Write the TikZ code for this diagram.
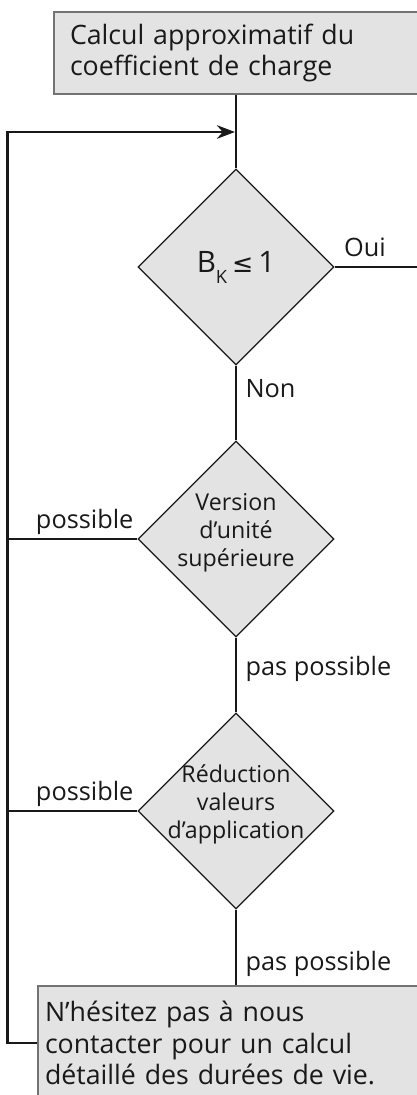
\documentclass[tikz,border=0pt]{standalone}
\usepackage{fontspec}
\setmainfont{Open Sans}
\newfontfamily\symfont{DejaVu Sans}
\usepackage{tikz}
\usetikzlibrary{shapes.geometric, arrows.meta, positioning, calc}
\definecolor{boxgray}{gray}{0.89}
\definecolor{ink}{gray}{0.1}

\begin{document}
\begin{tikzpicture}[
  every node/.style={font=\fontsize{18}{22}\selectfont, text=ink},
  infobox/.style={draw=black!55, line width=0.8pt, fill=boxgray, rectangle, align=left, font=\fontsize{19}{22.5}\selectfont},
  decision/.style={draw=ink, line width=0.9pt, fill=boxgray, diamond, aspect=1, minimum width=4.9cm, minimum height=4.9cm, inner sep=0pt},
  dtext/.style={align=center, font=\fontsize{16.5}{20}\selectfont},
  flow/.style={draw=ink, line width=1.6pt},
  lbl/.style={inner xsep=6pt, inner ysep=7pt, text depth=0pt}
]
\useasboundingbox (0,0) rectangle (10.425,-27.375);

% Start box
\node[infobox, minimum width=9.1cm, minimum height=2.05cm, text width=8.3cm, inner xsep=0.4cm] (calc) at (5.9,-1.325) {Calcul approximatif du\\coefficient de charge};

% Decisions
\node[decision] (bk) at (5.9,-6.675) {};
\node[dtext, font=\fontsize{21}{24}\selectfont] (bktxt) at (bk) {B\raisebox{-0.7ex}{\fontsize{13}{13}\selectfont K}\,{\symfont\fontsize{18}{18}\selectfont ≤}\,1};

\node[decision] (unit) at (5.9,-13.475) {};
\node[dtext] (unittxt) at ($(unit)+(0,0.15)$) {Version\\d’unité\\supérieure};

\node[decision] (reduc) at (5.9,-20.275) {};
\node[dtext] (reductxt) at ($(reduc)+(0,0.17)$) {Réduction\\valeurs\\d’application};

% End box
\node[infobox, minimum width=9.8cm, minimum height=2.85cm, text width=9.45cm, inner xsep=0.175cm] (contact) at (5.85,-26.075) {N’hésitez pas à nous\\contacter pour un calcul\\détaillé des durées de vie.};

\coordinate (oend) at (10.6,-6.675);
\coordinate (loop) at (0.1875,-3.3);

% Main flow
\draw[flow] (calc) -- (bk);
\draw[flow] (bk.east) -- node[lbl, above right, pos=0] (oui) {Oui} (oend);
\draw[flow] (bk) -- node[lbl, right, pos=0.3] (non) {Non} (unit);
\draw[flow] (unit) -- node[lbl, right, pos=0.38] (nopos1) {pas possible} (reduc);
\draw[flow] (reduc) -- node[lbl, right, pos=0.68] (nopos2) {pas possible} (reduc.south |- contact.north);

% Back to the start
\draw[flow] (unit.west) -- node[lbl, above left, pos=0, inner xsep=2pt] (pos1) {possible} (unit.west -| loop);
\draw[flow] (reduc.west) -- node[lbl, above left, pos=0, inner xsep=2pt] (pos2) {possible} (reduc.west -| loop);
\draw[flow, -{Stealth[length=0.45cm, width=0.34cm]}, shorten >=0.8pt] (contact.west) -| (loop) -- (calc.south |- loop);
\end{tikzpicture}
\end{document}
